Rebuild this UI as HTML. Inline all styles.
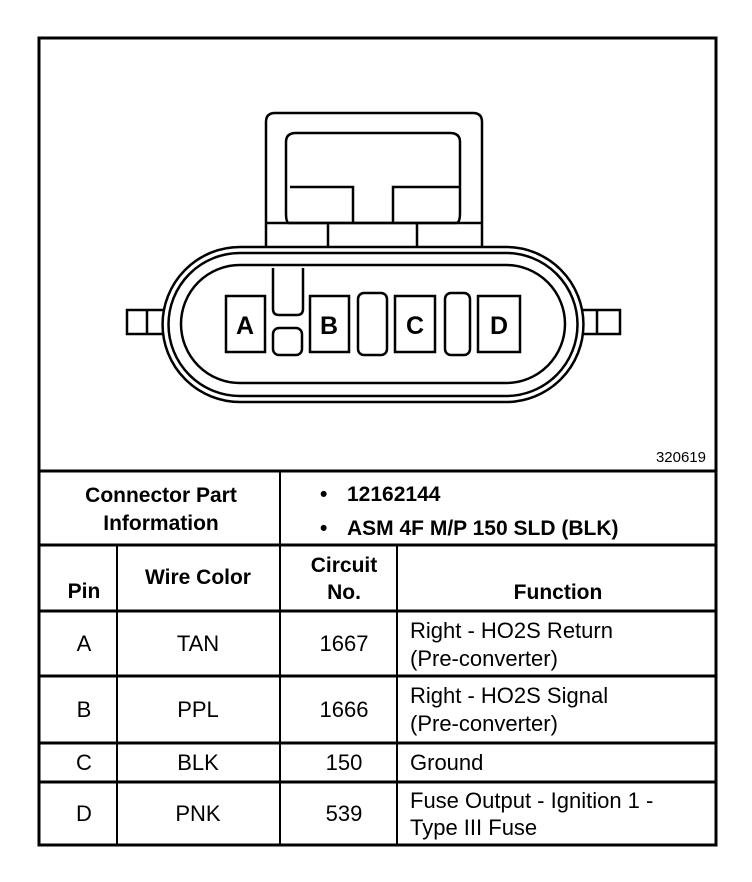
<!DOCTYPE html>
<html><head><meta charset="utf-8"><style>
html,body{margin:0;padding:0;background:#fff;}
svg{display:block;}
text{font-family:"Liberation Sans",Arial,sans-serif;fill:#000;}
.b{font-weight:bold;font-size:21px;}
.n text{font-size:22px;}
</style></head><body>
<svg width="752" height="882" viewBox="0 0 752 882" xmlns="http://www.w3.org/2000/svg">
<g fill="none" stroke="#000" stroke-width="3">
<rect x="39" y="38" width="677" height="807"/>
<line x1="39" y1="471" x2="716" y2="471"/>
<line x1="39" y1="545" x2="716" y2="545"/>
<line x1="39" y1="611" x2="716" y2="611"/>
<line x1="39" y1="676" x2="716" y2="676"/>
<line x1="39" y1="743" x2="716" y2="743"/>
<line x1="39" y1="782" x2="716" y2="782"/>
<line x1="280" y1="471" x2="280" y2="845" stroke-width="2"/>
<line x1="117" y1="545" x2="117" y2="845" stroke-width="2"/>
<line x1="397" y1="545" x2="397" y2="845" stroke-width="2"/>
</g>
<g fill="#fff" stroke="#000" stroke-width="2.5">
<path d="M266,247 L266,122 Q266,113 275,113 L473,113 Q482,113 482,122 L482,247"/>
<path d="M289,223 Q286,223 286,213 L286,142 Q286,133 296,133 L450,133 Q460,133 460,142 L460,213 Q460,223 456,223 Z"/>
<path d="M290,187 L353,187 L353,223 M459,187 L393,187 L393,223" />
<line x1="328" y1="223" x2="328" y2="247"/>
<line x1="417" y1="223" x2="417" y2="247"/>
<line x1="266" y1="223" x2="482" y2="223"/>
<rect x="127" y="310" width="37" height="24"/>
<line x1="147" y1="310" x2="147" y2="334"/>
<rect x="582" y="310" width="38" height="24"/>
<line x1="597" y1="310" x2="597" y2="334"/>
<path d="M240,247 L506,247 A77,77 0 0 1 506,402 L240,402 A77,77 0 0 1 240,247 Z"/>
<path d="M240,253 L506,253 A71,71 0 0 1 506,396 L240,396 A71,71 0 0 1 240,253 Z"/>
<path d="M240,265 L506,265 A59,59 0 0 1 506,383 L240,383 A59,59 0 0 1 240,265 Z"/>
<rect x="226" y="296" width="39" height="56"/>
<rect x="310" y="296" width="39" height="56"/>
<rect x="395" y="296" width="40" height="56"/>
<rect x="478" y="296" width="42" height="56"/>
<rect x="358" y="293" width="29" height="62" rx="6"/>
<rect x="445" y="293" width="25" height="62" rx="6"/>
<path d="M273,268 L273,309 Q273,315 279,315 L297,315 Q303,315 303,309 L303,268"/>
<rect x="273" y="328" width="29" height="27" rx="6"/>
</g>
<g style="font-family:'Liberation Sans',Arial,sans-serif;font-size:25px;font-weight:bold" text-anchor="middle">
<text x="245" y="334">A</text><text x="329" y="334">B</text><text x="415" y="334">C</text><text x="499" y="334">D</text>
</g>
<text x="706" y="462" text-anchor="end" font-size="15">320619</text>
<text class="b" x="161" y="502" text-anchor="middle">Connector Part</text>
<text class="b" x="161" y="530" text-anchor="middle">Information</text>
<text class="b" x="320" y="501">•</text><text class="b" x="347" y="501">12162144</text>
<text class="b" x="320" y="535">•</text><text class="b" x="347" y="535">ASM 4F M/P 150 SLD (BLK)</text>
<text class="b" x="84" y="598" text-anchor="middle">Pin</text>
<text class="b" x="198" y="584" text-anchor="middle">Wire Color</text>
<text class="b" x="344" y="572" text-anchor="middle">Circuit</text>
<text class="b" x="344" y="599" text-anchor="middle">No.</text>
<text class="b" x="558" y="599" text-anchor="middle">Function</text>
<g class="n">
<text x="84" y="651" text-anchor="middle">A</text><text x="198" y="651" text-anchor="middle">TAN</text><text x="344" y="651" text-anchor="middle">1667</text>
<text x="410" y="638">Right - HO2S Return</text><text x="410" y="666">(Pre-converter)</text>
<text x="84" y="717" text-anchor="middle">B</text><text x="198" y="717" text-anchor="middle">PPL</text><text x="344" y="717" text-anchor="middle">1666</text>
<text x="410" y="703">Right - HO2S Signal</text><text x="410" y="731">(Pre-converter)</text>
<text x="84" y="770" text-anchor="middle">C</text><text x="198" y="770" text-anchor="middle">BLK</text><text x="344" y="770" text-anchor="middle">150</text>
<text x="410" y="770">Ground</text>
<text x="84" y="821" text-anchor="middle">D</text><text x="198" y="821" text-anchor="middle">PNK</text><text x="344" y="821" text-anchor="middle">539</text>
<text x="410" y="808">Fuse Output - Ignition 1 -</text><text x="410" y="835">Type III Fuse</text>
</g>
</svg>
</body></html>
